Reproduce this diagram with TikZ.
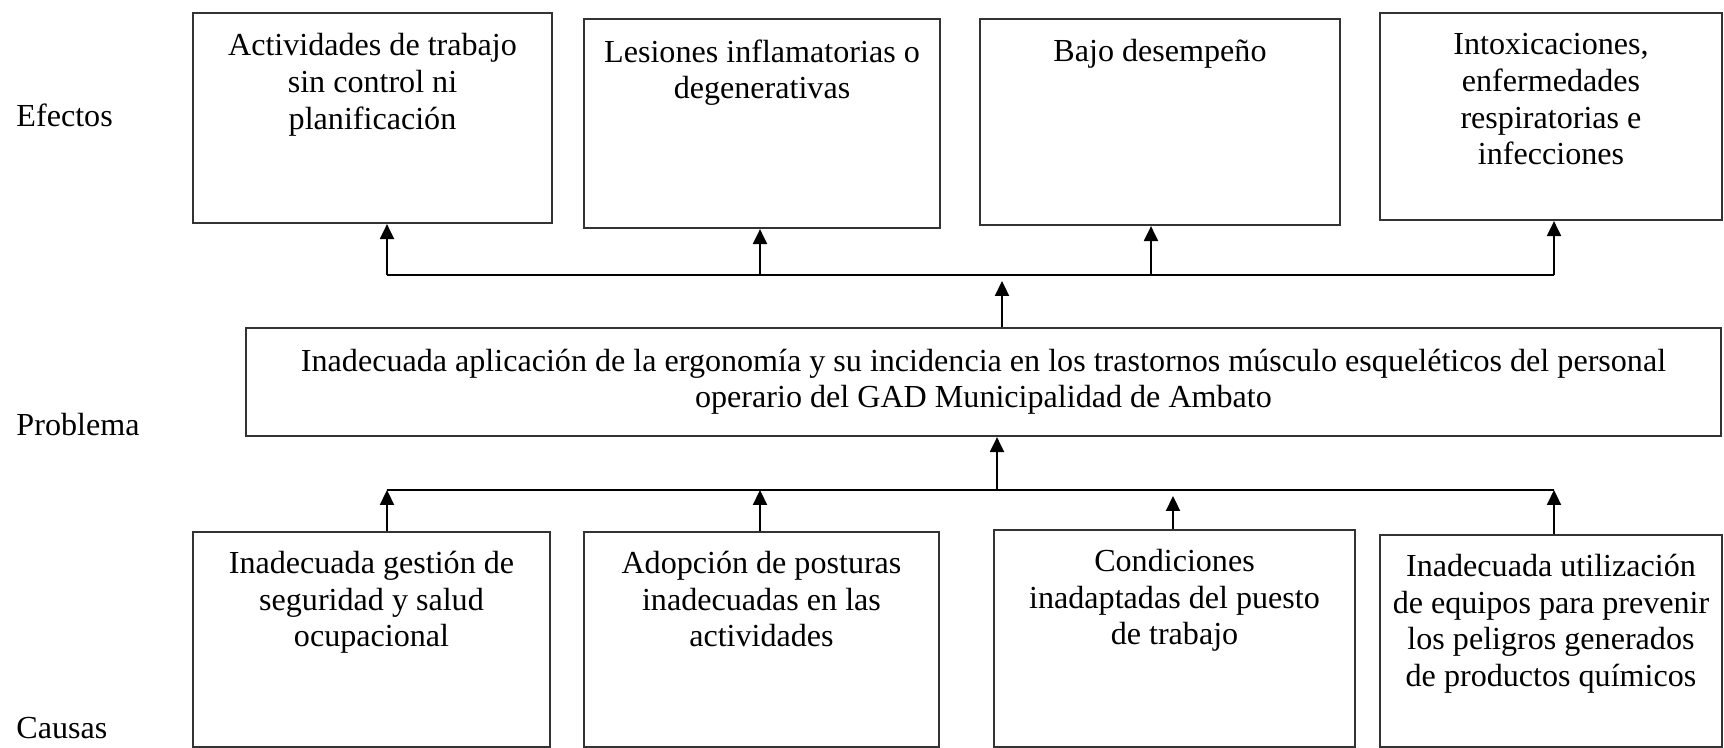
\documentclass[tikz,border=0pt]{standalone}
\usepackage{fontspec}
\setmainfont{Liberation Serif}
\usetikzlibrary{arrows.meta,positioning,fit}

\tikzset{
  caja/.style={draw=black!80, line width=0.95pt, inner sep=0pt},
  texto/.style={align=center, inner sep=0pt, font=\fontsize{13.7}{15.6}\selectfont},
  rotulo/.style={anchor=west, inner sep=0pt, font=\fontsize{13.7}{15.6}\selectfont},
  flecha/.style={line width=0.85pt, -{Triangle[length=6.4pt, width=6pt]}},
  barra/.style={line width=0.6pt},
}

\begin{document}
\begin{tikzpicture}[x=0.015cm, y=-0.015cm]
  \useasboundingbox (0,0) rectangle (1724,748);
  % rotulos
  \node[rotulo] (efectos) at (16,115) {Efectos};
  \node[rotulo] (problema) at (16,425) {Problema};
  \node[rotulo] (causas) at (16,728) {Causas};
  % efectos
  \node[caja, fit={(193,13) (552,223)}] (e1) {};
  \node[caja, fit={(584,19) (940,228)}] (e2) {};
  \node[caja, fit={(980,19) (1340,225)}] (e3) {};
  \node[caja, fit={(1380,13) (1722,220)}] (e4) {};
  \node[texto, below=0.32cm of e1.north] (te1) {Actividades de trabajo\\sin control ni\\planificación};
  \node[texto, below=0.32cm of e2.north] (te2) {Lesiones inflamatorias o\\degenerativas};
  \node[texto, below=0.32cm of e3.north] (te3) {Bajo desempeño};
  \node[texto, below=0.32cm of e4.north] (te4) {Intoxicaciones,\\enfermedades\\respiratorias e\\infecciones};
  % problema
  \node[caja, fit={(246,328) (1721,436)}] (p) {};
  \node[texto, below=0.32cm of p.north] (tp) {Inadecuada aplicación de la ergonomía y su incidencia en los trastornos músculo esqueléticos del personal\\operario del GAD Municipalidad de Ambato};
  % causas
  \node[caja, fit={(193,532) (550,747)}] (c1) {};
  \node[caja, fit={(584,532) (939,747)}] (c2) {};
  \node[caja, fit={(994,530) (1355,747)}] (c3) {};
  \node[caja, fit={(1380,535) (1722,747)}] (c4) {};
  \node[texto, below=0.3cm of c1.north] (tc1) {Inadecuada gestión de\\seguridad y salud\\ocupacional};
  \node[texto, below=0.3cm of c2.north] (tc2) {Adopción de posturas\\inadecuadas en las\\actividades};
  \node[texto, below=0.3cm of c3.north] (tc3) {Condiciones\\inadaptadas del puesto\\de trabajo};
  \node[texto, below=0.3cm of c4.north] (tc4) {Inadecuada utilización\\de equipos para prevenir\\los peligros generados\\de productos químicos};
  % barra de efectos
  \coordinate (eb1) at (387,275);
  \coordinate (eb2) at (760,275);
  \coordinate (eb3) at (1151,275);
  \coordinate (eb4) at (1554,275);
  \coordinate (em) at (1002,281);
  \draw[barra] (eb1) -- (eb4);
  \foreach \i in {1,...,4}
    \draw[flecha] (eb\i) -- (eb\i |- e\i.south);
  \draw[flecha] (p.north -| em) -- (em);
  % barra de causas
  \coordinate (cb1) at (387,490);
  \coordinate (cb2) at (760,490);
  \coordinate (cb3) at (1173,496);
  \coordinate (cb4) at (1554,490);
  \coordinate (cm) at (997,490);
  \draw[barra] (cb1) -- (cb4);
  \foreach \i in {1,...,4}
    \draw[flecha] (c\i.north -| cb\i) -- (cb\i);
  \draw[flecha] (cm) -- (cm |- p.south);
\end{tikzpicture}
\end{document}
